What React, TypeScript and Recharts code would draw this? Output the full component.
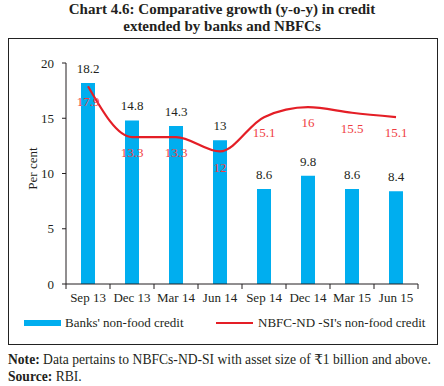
// Chart 4.6: bank vs NBFC credit growth
import React from 'react';
import {
  ComposedChart,
  Bar,
  Line,
  XAxis,
  YAxis,
  LabelList,
  Legend,
} from 'recharts';

const categories = ['Sep 13', 'Dec 13', 'Mar 14', 'Jun 14', 'Sep 14', 'Dec 14', 'Mar 15', 'Jun 15'];
const banksCredit = [18.2, 14.8, 14.3, 13, 8.6, 9.8, 8.6, 8.4];
const nbfcCredit = [17.9, 13.3, 13.3, 12, 15.1, 16, 15.5, 15.1];
const yTicks = [0, 5, 10, 15, 20];

const data = categories.map((period, i) => ({
  period,
  banks: banksCredit[i],
  nbfc: nbfcCredit[i],
}));

const FONT = '"Liberation Serif", "DejaVu Serif", serif';
const TEXT = '#231f20';
const BLUE = '#00aeef';
const RED = '#e41e26';

const CategoryTick = (props: any) => {
  const { x, y, payload, index, width } = props;
  const step = (width || 352) / categories.length;
  return (
    <g>
      <line x1={x - step / 2} y1={y} x2={x - step / 2} y2={y + 5} stroke={TEXT} />
      {index === categories.length - 1 && (
        <line x1={x + step / 2} y1={y} x2={x + step / 2} y2={y + 5} stroke={TEXT} />
      )}
      <text x={x} y={y + 18} textAnchor="middle" fontSize={13} fill={TEXT} fontFamily={FONT}>
        {payload.value}
      </text>
    </g>
  );
};

const YLabel = (props: any) => {
  const { viewBox } = props;
  const cx = viewBox.x + 16;
  const cy = viewBox.y + viewBox.height / 2 - 5;
  return (
    <text
      x={cx}
      y={cy}
      transform={`rotate(-90, ${cx}, ${cy})`}
      textAnchor="middle"
      dominantBaseline="central"
      fontSize={13}
      fill={TEXT}
      fontFamily={FONT}
    >
      Per cent
    </text>
  );
};

const LegendBox = () => (
  <div style={{ position: 'relative', height: 16, fontFamily: FONT, fontSize: 13, color: TEXT }}>
    <div style={{ position: 'absolute', left: 16, top: 5, width: 37, height: 6, background: BLUE }} />
    <div style={{ position: 'absolute', left: 57, top: 0, lineHeight: '16px', whiteSpace: 'nowrap' }}>
      Banks' non-food credit
    </div>
    <div style={{ position: 'absolute', left: 208, top: 7, width: 37, height: 2, background: RED }} />
    <div style={{ position: 'absolute', left: 250, top: 0, lineHeight: '16px', whiteSpace: 'nowrap' }}>
      NBFC-ND -SI's non-food credit
    </div>
  </div>
);

export default function App() {
  return (
    <div
      style={{
        position: 'absolute',
        left: 0,
        top: 0,
        width: 444,
        height: 386,
        background: '#fff',
        fontFamily: FONT,
        color: TEXT,
      }}
    >
      <div
        style={{
          position: 'absolute',
          top: 1,
          left: 0,
          width: 444,
          textAlign: 'center',
          fontWeight: 'bold',
          fontSize: 15,
          lineHeight: '17px',
        }}
      >
        Chart 4.6: Comparative growth (y-o-y) in credit
        <br />
        extended by banks and NBFCs
      </div>
      <div
        style={{
          position: 'absolute',
          left: 8,
          top: 38,
          width: 430,
          height: 307,
          boxSizing: 'border-box',
          border: '1px solid #222',
        }}
      />
      <div style={{ position: 'absolute', left: 8, top: 39 }}>
        <ComposedChart
          width={429}
          height={305}
          data={data}
          barCategoryGap={0}
          margin={{ top: 24, right: 19, bottom: 30, left: 8 }}
        >
          <XAxis
            dataKey="period"
            height={30}
            stroke={TEXT}
            tickLine={false}
            tickSize={0}
            tickMargin={0}
            interval={0}
            tick={<CategoryTick />}
          />
          <YAxis
            width={50}
            domain={[0, 20]}
            ticks={yTicks}
            interval={0}
            stroke={TEXT}
            tickSize={4}
            tickMargin={8}
            tick={{ fill: TEXT, fontSize: 13, fontFamily: FONT }}
            label={<YLabel />}
          />
          <Bar dataKey="banks" fill={BLUE} barSize={14} isAnimationActive={false}>
            <LabelList
              dataKey="banks"
              position="top"
              offset={10}
              fill={TEXT}
              fontSize={13}
              fontFamily={FONT}
            />
          </Bar>
          <Line
            dataKey="nbfc"
            type="monotone"
            stroke={RED}
            strokeWidth={2.2}
            dot={false}
            isAnimationActive={false}
          >
            <LabelList
              dataKey="nbfc"
              position="bottom"
              offset={11}
              fill="#ef3e42"
              fontSize={13}
              fontFamily={FONT}
            />
          </Line>
          <Legend
            layout="horizontal"
            verticalAlign="middle"
            align="center"
            content={<LegendBox />}
            wrapperStyle={{ top: 276, left: 0, width: 429 }}
          />
        </ComposedChart>
      </div>
      <div
        style={{
          position: 'absolute',
          left: 8,
          top: 351,
          fontSize: 13.6,
          lineHeight: '17px',
          whiteSpace: 'nowrap',
        }}
      >
        <b>Note:</b> Data pertains to NBFCs-ND-SI with asset size of ₹1 billion and above.
        <br />
        <b>Source:</b> RBI.
      </div>
    </div>
  );
}
